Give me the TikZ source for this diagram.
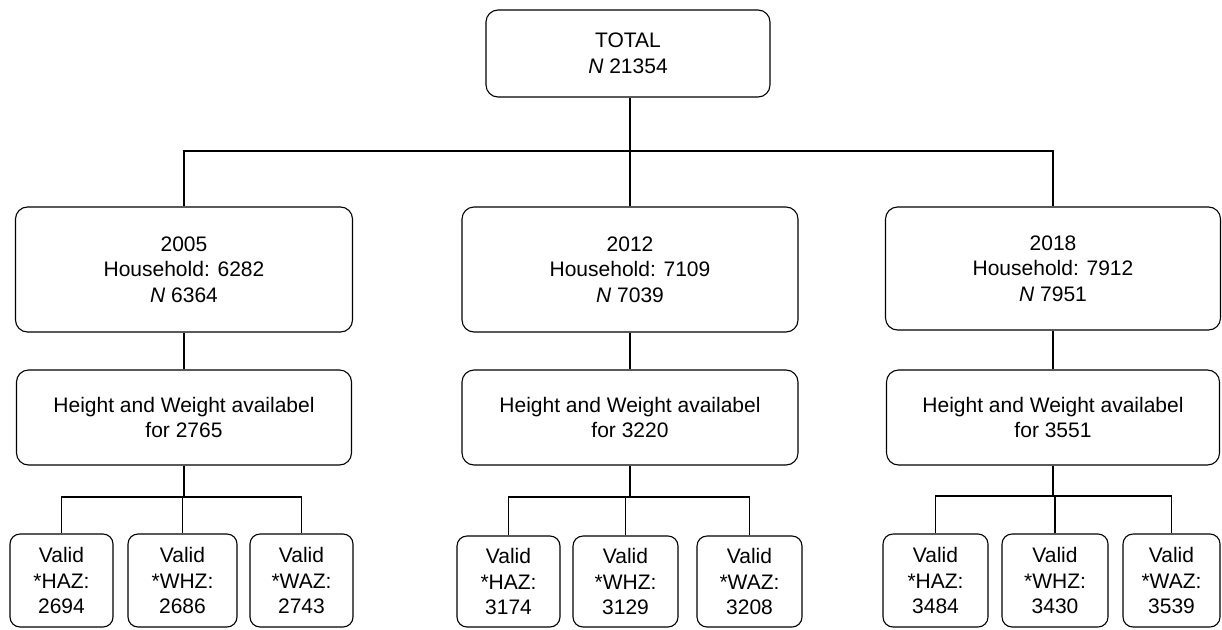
\documentclass[tikz,border=0pt]{standalone}
\usepackage{fontspec}
\setmainfont{Liberation Sans}
\begin{document}
\begin{tikzpicture}[x=1pt,y=-1pt,
  every node/.style={font=\fontsize{21}{25.5}\selectfont, align=center, inner sep=0pt},
  box/.style={draw, line width=1.1pt, rounded corners=12pt},
  vbox/.style={draw, line width=1.1pt, rounded corners=10pt, minimum height=93pt},
  conn/.style={line width=1.1pt}]
\useasboundingbox (0,0) rectangle (1222,629);

\node[box, minimum width=284pt, minimum height=87pt] (total) at (628,53.5) {TOTAL\\\textit{N} 21354};

\node[box, minimum width=337pt, minimum height=125pt] (y2005) at (184,269.5) {2005\\Household: 6282\\\textit{N} 6364};
\node[box, minimum width=336pt, minimum height=125pt] (y2012) at (630,269.5) {2012\\Household: 7109\\\textit{N} 7039};
\node[box, minimum width=335pt, minimum height=123pt] (y2018) at (1053,268.5) {2018\\Household: 7912\\\textit{N} 7951};

\node[box, minimum width=335pt, minimum height=95pt] (h2005) at (184,417.5) {Height and Weight availabel\\for 2765};
\node[box, minimum width=336pt, minimum height=95pt] (h2012) at (630,417.5) {Height and Weight availabel\\for 3220};
\node[box, minimum width=333pt, minimum height=95pt] (h2018) at (1053,417.5) {Height and Weight availabel\\for 3551};

\node[vbox, minimum width=103pt] (v11) at (61.5,580.5) {Valid\\*HAZ:\\2694};
\node[vbox, minimum width=109pt] (v12) at (182.5,580.5) {Valid\\*WHZ:\\2686};
\node[vbox, minimum width=103pt] (v13) at (301.5,580.5) {Valid\\*WAZ:\\2743};

\node[vbox, minimum width=103pt, minimum height=91pt] (v21) at (508.5,581.5) {Valid\\*HAZ:\\3174};
\node[vbox, minimum width=105pt, minimum height=91pt] (v22) at (625.5,581.5) {Valid\\*WHZ:\\3129};
\node[vbox, minimum width=105pt, minimum height=91pt] (v23) at (749.5,581.5) {Valid\\*WAZ:\\3208};

\node[vbox, minimum width=105pt] (v31) at (935.5,580.5) {Valid\\*HAZ:\\3484};
\node[vbox, minimum width=106pt] (v32) at (1055,580.5) {Valid\\*WHZ:\\3430};
\node[vbox, minimum width=97pt] (v33) at (1171.5,580.5) {Valid\\*WAZ:\\3539};

% top bus
\coordinate (b0) at (630,151);
\draw[conn] (b0|-total.south) -- (b0);
\draw[conn] (b0) -| (y2005.north);
\draw[conn] (b0) -- (y2012.north);
\draw[conn] (b0) -| (y2018.north);

% year to height
\draw[conn] (y2005.south) -- (h2005.north);
\draw[conn] (y2012.south) -- (h2012.north);
\draw[conn] (y2018.south) -- (h2018.north);

% height to valid
\coordinate (b1) at (184,497);
\coordinate (b2) at (630,497);
\coordinate (b3) at (1053,496);
\draw[conn] (h2005.south) -- (b1);
\draw[conn] (b1) -| (v11.north);
\draw[conn] (b1) -| (v13.north);
\draw[conn] (b1-|v12.north) -- (v12.north);
\draw[conn] (h2012.south) -- (b2);
\draw[conn] (b2) -| (v21.north);
\draw[conn] (b2) -| (v23.north);
\draw[conn] (b2-|v22.north) -- (v22.north);
\draw[conn] (h2018.south) -- (b3);
\draw[conn] (b3) -| (v31.north);
\draw[conn] (b3) -| (v33.north);
\draw[conn] (b3-|v32.north) -- (v32.north);
\end{tikzpicture}
\end{document}
